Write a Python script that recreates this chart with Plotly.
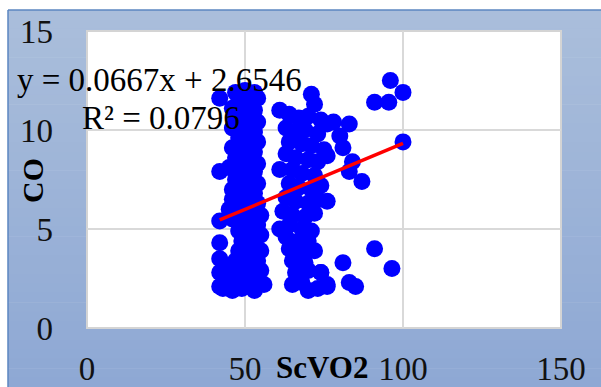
import plotly.graph_objects as go

# ---- data ----
scvo2 = [
    # left edge points
    42, 42, 42, 42, 42, 42, 42,
    # first column (about 44-56)
    47, 50, 53, 48, 52, 54, 46, 49, 53, 47, 51, 54, 46, 50, 53, 48, 52, 54,
    46, 50, 53, 47, 51, 54, 45, 49, 53, 47, 51, 54, 46, 49, 53, 46, 50, 54,
    45, 48, 52, 55, 46, 50, 54, 48, 52, 55, 49, 53, 48, 51, 55, 47, 50, 54,
    45, 49, 52, 55, 44, 47, 51, 54, 43, 46, 49, 53, 56,
    # second column (about 61-76)
    61, 71, 72, 64, 67, 70, 74, 63, 66, 69, 73, 76, 64, 68, 71, 75, 63, 66,
    70, 73, 61, 65, 68, 72, 64, 67, 71, 74, 63, 66, 70, 73, 76, 62, 65, 69,
    72, 61, 64, 68, 71, 63, 67, 70, 64, 68, 72, 65, 69, 66, 70, 74, 65, 68,
    70, 76, 73, 74, 76,
    # scattered points to the right
    76, 80, 83, 84, 83, 87, 78, 81, 81, 83, 85, 91, 96.5, 91, 95.5, 96, 100,
    100,
]
co = [
    11.6, 7.9, 5.4, 4.3, 3.5, 2.8, 2.1,
    11.9, 12.0, 11.9, 11.5, 11.4, 11.6, 11.1, 11.0, 11.0, 10.6, 10.5, 10.4,
    10.1, 10.0, 9.9, 9.6, 9.5, 9.4, 9.1, 9.0, 8.9, 8.6, 8.5, 8.3, 8.1, 8.0,
    7.9, 7.5, 7.4, 7.3, 7.0, 6.9, 6.8, 6.5, 6.4, 6.3, 6.0, 5.9, 5.8, 5.7,
    5.5, 5.3, 5.2, 4.9, 4.8, 4.7, 4.4, 4.3, 3.9, 3.8, 3.9, 3.4, 3.3, 3.4,
    3.0, 2.9, 2.8, 2.9, 2.5, 2.4, 2.3, 2.4, 2.0, 1.9, 2.0, 1.9, 2.2,
    11.0, 11.8, 11.3, 10.8, 10.6, 10.7, 10.5, 10.1, 9.9, 10.0, 9.8, 10.3,
    9.4, 9.3, 9.2, 9.0, 8.8, 8.6, 8.5, 8.4, 8.0, 8.0, 7.8, 7.7, 7.3, 7.1,
    7.0, 7.2, 6.6, 6.4, 6.3, 6.5, 6.4, 5.9, 5.7, 5.6, 5.8, 5.0, 5.2, 5.0,
    4.9, 4.6, 4.4, 4.4, 4.0, 3.8, 3.9, 3.4, 3.3, 2.8, 2.9, 2.8, 2.2, 2.3,
    1.9, 2.2, 2.0, 2.8, 2.1,
    8.7, 9.7, 10.3, 8.4, 7.9, 7.4, 10.4, 9.1, 3.3, 2.3, 2.1, 4.0, 3.0, 11.4,
    11.4, 12.5, 11.9, 9.4,
]
slope = 0.0667
intercept = 2.6546
r_squared = 0.0796
x_ticks = [0, 50, 100, 150]
y_ticks = [0, 5, 10, 15]
x_title = "ScVO2"
y_title = "CO"

# ---- figure ----
trend_x = [min(scvo2), max(scvo2)]
trend_y = [slope * v + intercept for v in trend_x]

fig = go.Figure()
fig.add_trace(go.Scatter(
    x=scvo2, y=co, mode="markers",
    marker=dict(color="#0000ff", size=17, line=dict(width=0)),
    showlegend=False, hoverinfo="skip"))
fig.add_trace(go.Scatter(
    x=trend_x, y=trend_y, mode="lines",
    line=dict(color="#ff0000", width=3.5),
    showlegend=False, hoverinfo="skip"))

W, H = 601, 387
L, R, T, B = 87, 561, 31, 328
pw, ph = R - L, B - T


def px_x(p):
    return (p - L) / pw


def px_y(p):
    return (B - p) / ph


# gradient background for the chart frame (bands)
shapes = []
top_c = (170, 190, 219)
bot_c = (142, 168, 212)
n = 40
y0p, y1p = 10, 387
for i in range(n):
    a = y0p + (y1p - y0p) * i / n
    b = y0p + (y1p - y0p) * (i + 1) / n + 0.6
    t = i / (n - 1)
    c = tuple(round(top_c[k] + (bot_c[k] - top_c[k]) * t) for k in range(3))
    shapes.append(dict(type="rect", xref="paper", yref="paper",
                       x0=px_x(8), x1=px_x(W + 2), y0=px_y(b), y1=px_y(a),
                       fillcolor="rgb(%d,%d,%d)" % c, line=dict(width=0),
                       layer="below"))
# frame border (top and left)
shapes.append(dict(type="line", xref="paper", yref="paper",
                   x0=px_x(8), x1=px_x(W + 2), y0=px_y(10), y1=px_y(10),
                   line=dict(color="#5b86c0", width=1.5), layer="below"))
shapes.append(dict(type="line", xref="paper", yref="paper",
                   x0=px_x(8), x1=px_x(8), y0=px_y(10), y1=px_y(H + 2),
                   line=dict(color="#5b86c0", width=1.5), layer="below"))
# plot area (white with light border)
shapes.append(dict(type="rect", xref="paper", yref="paper",
                   x0=0, x1=1, y0=0, y1=1, fillcolor="white",
                   line=dict(color="#d4d4d4", width=2), layer="below"))

serif = "Liberation Serif, Times New Roman, serif"
annotations = [
    dict(text="y = %.4fx + %.4f" % (slope, intercept), xref="paper",
         yref="paper", x=px_x(159), y=px_y(80), showarrow=False,
         font=dict(family=serif, size=33, color="#000000"),
         xanchor="center", yanchor="middle"),
    dict(text="R² = %.4f" % r_squared, xref="paper", yref="paper",
         x=px_x(161), y=px_y(118), showarrow=False,
         font=dict(family=serif, size=33, color="#000000"),
         xanchor="center", yanchor="middle"),
    dict(text="<b>%s</b>" % y_title, xref="paper", yref="paper",
         x=px_x(33), y=px_y(181), showarrow=False, textangle=-90,
         font=dict(family=serif, size=30, color="#000000"),
         xanchor="center", yanchor="middle"),
    dict(text="<b>%s</b>" % x_title, xref="paper", yref="paper",
         x=px_x(322), y=px_y(367), showarrow=False,
         font=dict(family=serif, size=31, color="#000000"),
         xanchor="center", yanchor="middle"),
]

fig.update_layout(
    width=W, height=H,
    margin=dict(l=L, r=W - R, t=T, b=H - B, pad=0, autoexpand=False),
    paper_bgcolor="white", plot_bgcolor="rgba(0,0,0,0)",
    shapes=shapes, annotations=annotations,
    xaxis=dict(range=[0, 150], tickvals=x_ticks, ticks="", showgrid=True,
               gridcolor="#d9d9d9", gridwidth=2, zeroline=False,
               showline=False, ticklabelstandoff=18, automargin=False,
               tickfont=dict(family=serif, size=33, color="#111111")),
    yaxis=dict(range=[0, 15], tickvals=y_ticks, ticks="", showgrid=True,
               gridcolor="#d9d9d9", gridwidth=2, zeroline=False,
               showline=False, ticklabelstandoff=33, automargin=False,
               tickfont=dict(family=serif, size=33, color="#111111")),
)

fig.write_html("out.html")
